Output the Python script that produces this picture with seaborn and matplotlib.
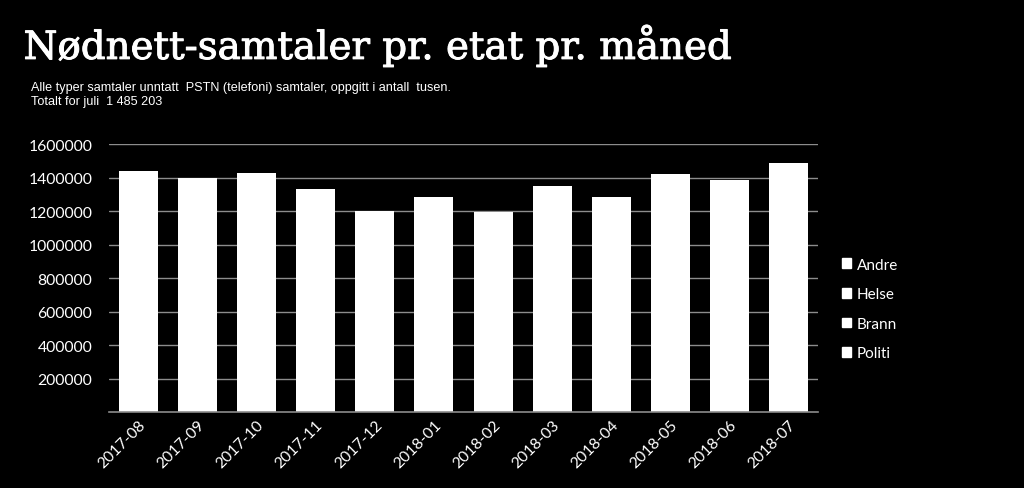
import matplotlib
matplotlib.use("Agg")
import matplotlib.pyplot as plt
import matplotlib.patheffects as pe
import seaborn as sns
import numpy as np
from matplotlib.patches import Patch

months = ["2017-08", "2017-09", "2017-10", "2017-11", "2017-12", "2018-01",
          "2018-02", "2018-03", "2018-04", "2018-05", "2018-06", "2018-07"]
politi = [790000, 770000, 785000, 735000, 660000, 705000, 655000, 740000, 705000, 780000, 760000, 815000]
brann = [120000, 115000, 118000, 110000, 100000, 106000, 100000, 112000, 106000, 118000, 114000, 124000]
helse = [430000, 418000, 428000, 398000, 360000, 384000, 358000, 403000, 384000, 425000, 414000, 445000]
andre = [100000, 94000, 99000, 88000, 82000, 87000, 83000, 92000, 87000, 98000, 95000, 101203]
series_names = ["Politi", "Brann", "Helse", "Andre"]
yticks = [200000, 400000, 600000, 800000, 1000000, 1200000, 1400000, 1600000]

sns.set_theme(style="dark")
fig = plt.figure(figsize=(10.24, 4.89), dpi=100, facecolor="black")
ax = fig.add_axes([0.1064, 0.1554, 0.6924, 0.548])
ax.set_facecolor("black")

layers = [politi, brann, helse, andre]
cums = np.cumsum(np.array(layers), axis=0)
for i in range(len(layers) - 1, -1, -1):
    sns.barplot(x=months, y=cums[i], color="white", saturation=1, width=0.66,
                edgecolor="white", linewidth=0, ax=ax, zorder=3)

ax.set_ylim(0, 1600000)
ax.set_yticks(yticks)
ax.set_yticklabels([str(v) for v in yticks])
ax.yaxis.grid(True, color="#8c8c8c", linewidth=1.0, zorder=0)
ax.xaxis.grid(False)
for s in ["top", "right", "left"]:
    ax.spines[s].set_visible(False)
ax.spines["bottom"].set_color("#8c8c8c")
ax.spines["bottom"].set_linewidth(1.2)
ax.spines["bottom"].set_zorder(4)
ax.tick_params(axis="both", length=0, colors="white", labelsize=11.3)
ax.tick_params(axis="y", pad=12)
for lab in ax.get_yticklabels():
    lab.set_fontfamily(["Lato", "DejaVu Sans"])
for lab in ax.get_xticklabels():
    lab.set_rotation(45)
    lab.set_ha("right")
    lab.set_rotation_mode("anchor")
    lab.set_fontfamily(["Lato", "DejaVu Sans"])
ax.set_xlabel("")
ax.set_ylabel("")

handles = [Patch(facecolor="white", edgecolor="white") for _ in series_names]
leg = fig.legend(handles[::-1], series_names[::-1], loc="center left",
                 bbox_to_anchor=(0.809, 0.366), frameon=False,
                 handlelength=0.6, handleheight=0.6, handletextpad=0.35,
                 labelspacing=1.02, prop={"family": "Lato", "size": 11})
for t in leg.get_texts():
    t.set_color("white")

fig.text(0.023, 0.904, "Nødnett-samtaler pr. etat pr. måned", color="white",
         fontsize=27.9, fontfamily="DejaVu Serif",
         va="center", ha="left",
         path_effects=[pe.withStroke(linewidth=0.7, foreground="white")])
fig.text(0.030, 0.820, "Alle typer samtaler unntatt  PSTN (telefoni) samtaler, oppgitt i antall  tusen.",
         color="white", fontsize=9.1, fontfamily="Liberation Sans", va="center", ha="left")
fig.text(0.030, 0.791, "Totalt for juli  1 485 203", color="white", fontsize=9.1,
         fontfamily="Liberation Sans", va="center", ha="left")

fig.savefig("out.png", dpi=100, facecolor="black")
